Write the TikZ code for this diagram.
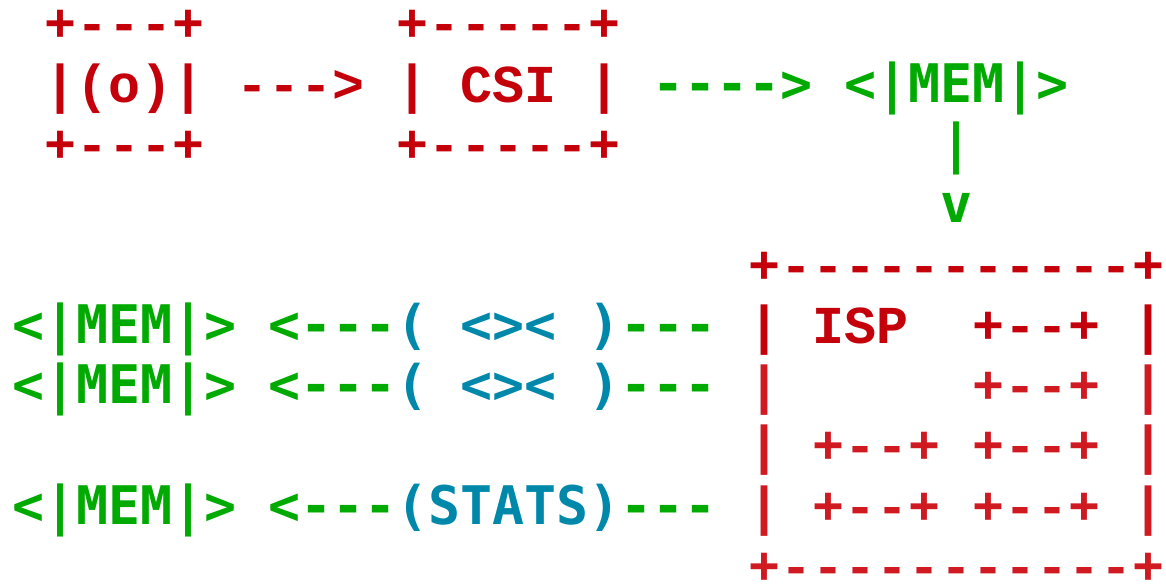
\documentclass[tikz,border=0pt]{standalone}
\usepackage{fontspec}
\usepackage{xcolor}
\usepackage{tikz}
\newfontfamily\redmono{Liberation Mono}[Ligatures=TeXOff]
\newfontfamily\greenmono{DejaVu Sans Mono}[Ligatures=TeXOff]
\definecolor{ascii_red}{HTML}{C4000B}
\definecolor{ascii_lightred}{HTML}{CF1A22}
\definecolor{ascii_green}{HTML}{00AA00}
\definecolor{ascii_blue}{HTML}{0088AA}

\begin{document}
\begin{tikzpicture}[x=16pt, y=-30.165pt,
	cell/.style={anchor=base west, inner sep=0pt, outer sep=0pt},
	red_text/.style={cell, text=ascii_red, font=\redmono\bfseries\fontsize{26.67pt}{30pt}\selectfont},
	lightred_text/.style={red_text, text=ascii_lightred},
	green_text/.style={cell, text=ascii_green, font=\greenmono\bfseries\fontsize{26.6pt}{30pt}\selectfont},
	blue_text/.style={green_text, text=ascii_blue}]
				\useasboundingbox (-0.375,-0.691) rectangle (36.0625,9.0056);
				\node[red_text](cam_top) at (1,0){+---+};
				\node[red_text](cam) at (1,1){|(o)|};
				\node[red_text](cam_bot) at (1,2){+---+};
				\node[red_text](cam_csi) at (7,1){--->};
				\node[red_text](csi_top) at (12,0){+-----+};
				\node[red_text](csi) at (12,1){| CSI |};
				\node[red_text](csi_bot) at (12,2){+-----+};
				\node[green_text](csi_mem) at (20,1){---->};
				\node[green_text](mem) at (26,1){<|MEM|>};
				\node[green_text](mem_bar) at (29,2){|};
				\node[green_text](mem_isp) at (29,3){v};
				\node[red_text](isp_top) at (23,4){+-----------+};
				\node[red_text](isp) at (23,5){| ISP};
				\node[red_text](isp_blk1) at (30,5){+--+};
				\node[red_text](isp_r1) at (35,5){|};
				\node[lightred_text](isp_l2) at (23,6){|};
				\node[lightred_text](isp_blk2) at (30,6){+--+};
				\node[lightred_text](isp_r2) at (35,6){|};
				\node[lightred_text](isp_row3) at (23,7){| +--+ +--+ |};
				\node[lightred_text](isp_row4) at (23,8){| +--+ +--+ |};
				\node[lightred_text](isp_bot) at (23,9){+-----------+};
				\foreach \r/\lbl in {5/1, 6/2, 8/3}{
					\node[green_text](mem_out\lbl) at (0,\r){<|MEM|>};
					\node[green_text](arrow_out\lbl) at (8,\r){<---};
					\node[green_text](link_out\lbl) at (19,\r){---};
				}
				\node[blue_text](filter1) at (12,5){( <>< )};
				\node[blue_text](filter2) at (12,6){( <>< )};
				\node[blue_text](stats) at (12,8){(STATS)};
			\end{tikzpicture}
\end{document}
